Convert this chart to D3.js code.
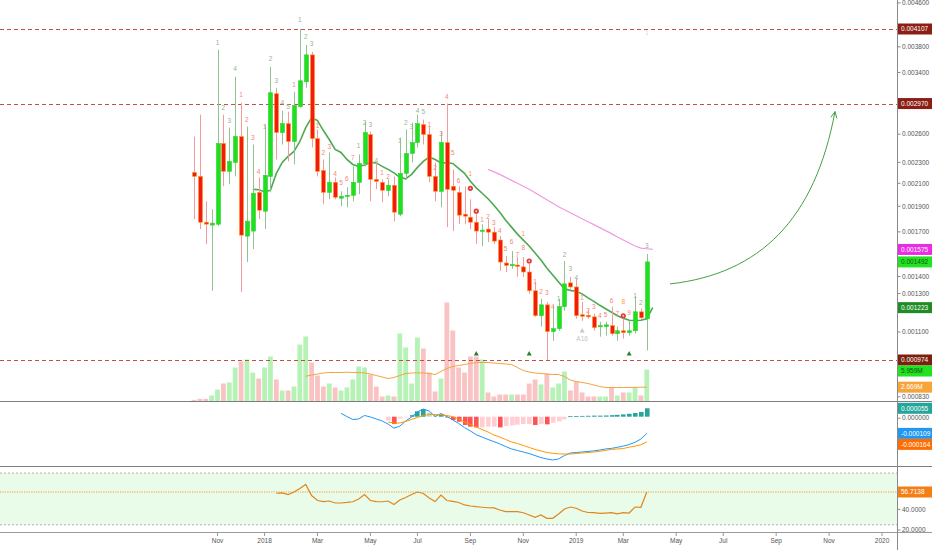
<!DOCTYPE html>
<html><head><meta charset="utf-8">
<script src="https://cdn.jsdelivr.net/npm/d3@7"></script>
<style>
html,body{margin:0;padding:0;background:#fff;}
svg{display:block;font-family:"Liberation Sans",Arial,sans-serif;}
</style></head><body>
<svg id="c" width="932" height="550"></svg>
<script>
// ---------- DATA (weekly candles, first week starting 2017-10-09) ----------
const firstWeek = "2017-10-09";
const open = [0.002202,0.002164,0.001773,0.001751,0.001758,0.002497,0.002212,0.002299,0.002573,0.001669,
0.001706,0.002019,0.001860,0.002164,0.003100,0.002618,0.002722,0.002518,0.002930,0.003265,
0.003670,0.002551,0.002221,0.002019,0.002109,0.001968,0.001985,0.001993,0.002109,0.002289,
0.002596,0.002136,0.002109,0.002037,0.002082,0.001836,0.002193,0.002391,0.002507,0.002711,
0.002596,0.002164,0.002028,0.002507,0.002073,0.002019,0.001836,0.001812,0.001773,0.001706,
0.001721,0.001698,0.001641,0.001485,0.001469,0.001472,0.001460,0.001428,0.001316,0.001181,
0.001238,0.001102,0.001116,0.001228,0.001362,0.001338,0.001186,0.001183,0.001175,0.001126,
0.001126,0.001131,0.001092,0.001106,0.001097,0.001106,0.001201,0.001165];
const high = [0.002573,0.002830,0.001942,0.001876,0.003750,0.002830,0.002676,0.003337,0.002981,0.002687,
0.002486,0.002155,0.002711,0.003484,0.003181,0.002880,0.002867,0.003127,0.004107,0.003832,
0.003718,0.002653,0.002329,0.002401,0.002155,0.002028,0.002064,0.002260,0.002380,0.002746,
0.002630,0.002299,0.002136,0.002136,0.002164,0.002562,0.002653,0.002734,0.002830,0.002770,
0.002687,0.002299,0.002630,0.002970,0.002231,0.002073,0.002073,0.001959,0.001836,0.001758,
0.001797,0.001736,0.001669,0.001531,0.001564,0.001524,0.001524,0.001479,0.001368,0.001271,
0.001254,0.001233,0.001271,0.001498,0.001398,0.001386,0.001254,0.001212,0.001191,0.001150,
0.001150,0.001228,0.001126,0.001181,0.001155,0.001287,0.001217,0.001544];
const low = [0.001797,0.001721,0.001612,0.001316,0.001743,0.002073,0.002091,0.002164,0.001310,0.001491,
0.001578,0.001797,0.001721,0.002019,0.002329,0.002486,0.002309,0.002280,0.002918,0.003181,
0.002454,0.002164,0.001917,0.001959,0.001959,0.001901,0.001892,0.001942,0.002002,0.002260,
0.001942,0.002046,0.001934,0.001985,0.001781,0.001820,0.002136,0.002299,0.002454,0.002486,
0.002109,0.001942,0.001892,0.001736,0.001706,0.001758,0.001758,0.001721,0.001612,0.001598,
0.001626,0.001612,0.001434,0.001428,0.001447,0.001398,0.001398,0.001299,0.001175,0.001126,
0.000974,0.001059,0.001106,0.001206,0.001327,0.001165,0.001155,0.001165,0.001106,0.001078,
0.001083,0.001083,0.001059,0.001069,0.001083,0.001092,0.001165,0.001015];
const close = [0.002164,0.001773,0.001758,0.001766,0.002497,0.002212,0.002309,0.002573,0.001676,0.001781,
0.002011,0.001868,0.002174,0.003113,0.002618,0.002722,0.002518,0.002943,0.003279,0.003670,
0.002551,0.002212,0.002019,0.002109,0.001976,0.001985,0.001993,0.002109,0.002289,0.002618,
0.002136,0.002118,0.002037,0.002082,0.001852,0.002193,0.002391,0.002507,0.002722,0.002596,
0.002164,0.002028,0.002507,0.002046,0.002037,0.001828,0.001820,0.001773,0.001706,0.001713,
0.001698,0.001633,0.001491,0.001469,0.001475,0.001463,0.001428,0.001316,0.001181,0.001238,
0.001102,0.001116,0.001228,0.001356,0.001338,0.001181,0.001178,0.001175,0.001121,0.001131,
0.001135,0.001092,0.001106,0.001097,0.001106,0.001201,0.001170,0.001492];
// volume in millions
const volume = [0.3,0.5,0.5,1.12,2.23,3.35,3.54,6.33,7.45,7.82,
5.40,4.28,6.33,8.38,4.10,2.05,2.05,2.79,10.61,12.10,
7.26,4.84,2.79,3.35,2.61,2.05,2.61,4.10,6.52,6.33,
5.03,2.79,0.93,1.12,0.93,12.66,10.06,3.35,11.92,9.87,
5.40,1.86,4.28,18.44,13.22,6.33,5.40,8.38,8.38,7.82,
1.68,0.93,1.30,1.30,1.30,1.30,1.30,3.35,4.10,3.17,
5.21,2.61,3.35,5.59,2.05,3.72,1.68,0.93,0.93,0.93,
0.93,2.61,1.12,1.68,1.68,2.61,1.12,5.959];
const volMAStart = 19;
const volMA = [4.71,4.93,5.12,5.31,5.40,5.40,5.40,5.46,5.40,5.40,
5.31,5.12,4.84,4.56,4.28,4.47,4.84,5.21,5.31,5.34,
5.31,5.21,5.03,5.59,6.15,6.52,6.70,6.89,7.08,7.26,
7.26,7.26,7.17,7.08,6.98,6.89,6.33,5.77,5.49,5.31,
5.21,5.12,5.03,5.03,4.66,4.00,3.72,3.54,3.35,3.07,
2.79,2.61,2.61,2.61,2.61,2.61,2.63,2.65,2.669];
const emaStart = 10;
const ema = [0.0020458,0.0020414,0.0020238,0.0020370,0.0021925,0.0022994,0.0023599,0.0024115,0.0025182,0.0026755,
0.0027939,0.0027578,0.0026410,0.0025401,0.0024325,0.0024011,0.0023294,0.0022795,0.0022599,0.0022746,
0.0022994,0.0022944,0.0022599,0.0022308,0.0021973,0.0021549,0.0021410,0.0021830,0.0022501,0.0023093,
0.0023548,0.0023294,0.0022944,0.0022964,0.0022894,0.0022404,0.0021925,0.0021178,0.0020590,0.0020107,
0.0019634,0.0019089,0.0018519,0.0017888,0.0017355,0.0016837,0.0016405,0.0015984,0.0015507,0.0015044,
0.0014532,0.0014098,0.0013677,0.0013269,0.0013183,0.0013126,0.0012985,0.0012762,0.0012570,0.0012355,
0.0012168,0.0011985,0.0011805,0.0011678,0.0011578,0.0011568,0.0011578,0.0011653,0.0012230];
const maLongStart = 50;
const maLong = [0.0022308,0.0022068,0.0021830,0.0021549,0.0021270,0.0020995,0.0020725,0.0020458,0.0020151,0.0019848,
0.0019549,0.0019255,0.0018965,0.0018720,0.0018479,0.0018241,0.0018006,0.0017773,0.0017543,0.0017317,
0.0017094,0.0016873,0.0016620,0.0016405,0.0016193,0.0015984,0.0015847,0.0015800,0.0015750];
// MACD (x 1e-6)
const macdStart = 25;
const macd = [22,1,-18,-15,8,-2,-15,-28,-48,-75,-62,-28,-2,31,50,37,1,21,1,-20,
-44,-71,-93,-118,-133,-149,-163,-178,-195,-211,-221,-231,-241,-254,-267,-276,-283,-276,-254,-237,
-234,-231,-227,-223,-218,-211,-207,-200,-192,-182,-167,-146,-109];
const signalStart = 33;
const signal = [-35,-41,-41,-31,-18,-5,8,14,14,13,8,0,-15,-35,-51,-67,-84,-100,-120,-133,
-149,-165,-175,-188,-201,-214,-224,-234,-239,-243,-244,-244,-241,-237,-234,-231,-226,-220,-214,-211,
-208,-199,-192,-184,-164];
const histStart = 33;
const hist = [-26,-48,-12,-3,10,35,50,27,10,14,-5,-22,-33,-54,-65,-70,-70,-65,-65,-70,
-61,-56,-52,-48,-48,-54,-48,-50,-39,-30,-17,3,4,5,6,7,7,8,10,12,
15,19,24,31,55];
const rsiStart = 14;
const rsi = [55.5,55.9,54.3,56.7,60.1,64.0,53.3,48.5,47.5,48.0,46.1,46.1,46.6,47.3,50.0,54.3,48.5,47.5,47.3,48.0,
44.6,49.0,51.4,54.3,56.7,55.3,50.9,47.5,53.8,48.5,47.7,46.6,44.2,43.2,42.5,42.0,41.5,41.3,39.3,37.7,
37.7,37.7,36.7,34.5,32.3,34.5,31.3,31.3,35.5,40.3,42.2,41.0,38.4,36.9,36.7,36.1,36.4,36.7,35.5,36.7,
36.4,42.2,41.9,56.7138];
const levelLines = [0.004107, 0.002970, 0.000974];
const priceTicks = [0.0046,0.0042,0.0038,0.0034,0.0030,0.0026,0.0023,0.0021,0.0019,0.0017,0.0014,0.0013,0.0011,0.0010,0.00083];
const rsiTicks = [60,40,20];
const xTickDates = ["2017-11-06","2018-01-01","2018-03-05","2018-05-07","2018-07-02","2018-09-03","2018-11-05","2019-01-07","2019-03-04","2019-05-06","2019-07-01","2019-09-02","2019-11-04","2020-01-06"];
const xTickLabels = ["Nov","2018","Mar","May","Jul","Sep","Nov","2019","Mar","May","Jul","Sep","Nov","2020"];
// TD-style count labels: [weekIndex, text, price, kind]
const tdLabels = [
[4,"1",0.0038655,"g"],[5,"2",0.0029175,"g"],[6,"3",0.0027578,"g"],[7,"4",0.0034540,"g"],
[8,"1",0.0030864,"r"],[9,"2",0.0027698,"r"],[10,"3",0.0025622,"r"],[11,"4",0.0022116,"r"],
[12,"1",0.0026872,"g"],[13,"2",0.0036069,"g"],[14,"3",0.0032792,"g"],[15,"4",0.0029813,"g"],[16,"5",0.0029302,"g"],
[17,"1",0.0032229,"r"],[18,"1",0.0042705,"g"],[19,"2",0.0039672,"g"],[20,"3",0.0038488,"g"],
[21,"1",0.0026988,"r"],[22,"2",0.0024011,"r"],[23,"3",0.0024643,"r"],[24,"4",0.0021925,"r"],[25,"5",0.0021086,"r"],[26,"6",0.0021456,"r"],[27,"7",0.0023497,"r"],
[28,"1",0.0024750,"g"],[29,"2",0.0027341,"g"],[30,"3",0.0027105,"g"],[31,"4",0.0023194,"g"],
[32,"1",0.0022020,"r"],[33,"2",0.0021642,"r"],
[35,"1",0.0025291,"g"],[36,"2",0.0027341,"g"],[37,"3",0.0026872,"g"],[38,"4",0.0028798,"g"],[39,"5",0.0028674,"g"],
[40,"1",0.0027105,"r"],[41,"2",0.0022501,"r"],[42,"3",0.0026070,"r"],[43,"4",0.0030598,"r"],[44,"5",0.0024011,"r"],[45,"6",0.0021270,"r"],
[47,"1",0.0021925,"o"],[47,"",0.0020546,"c"],[48,"",0.0018599,"c"],
[49,"1",0.0017888,"r"],[50,"2",0.0018123,"r"],[51,"3",0.0017658,"r"],[52,"4",0.0017057,"r"],[53,"5",0.0015778,"r"],[54,"6",0.0016263,"r"],[55,"7",0.0015374,"r"],[56,"8",0.0015847,"r"],
[56,"1",0.0016837,"o"],[57,"",0.0014979,"c"],
[58,"1",0.0013677,"r"],[59,"2",0.0013098,"r"],[60,"3",0.0013041,"r"],[61,"4",0.0012275,"r"],
[62,"1",0.0012707,"g"],[63,"2",0.0015374,"g"],[64,"3",0.0014469,"g"],[65,"4",0.0013916,"g"],
[66,"1",0.0012762,"r"],[67,"2",0.0012063,"r"],[68,"3",0.0012275,"r"],[69,"4",0.0011805,"r"],[70,"5",0.0011856,"r"],[71,"6",0.0012598,"r"],[72,"7",0.0011907,"r"],
[73,"8",0.0012543,"o"],[73,"",0.0011805,"c"],[74,"9",0.0011959,"r"],
[75,"1",0.0012873,"g"],[76,"2",0.0012489,"g"],[77,"3",0.0015984,"g"],[77,"1",0.0040365,"f"]
];
const upMarks = [48, 57, 74];           // small green triangles
const upMarkPrice = 0.0010015;
const annA = [66, 0.0011077, 0.0010686]; // "A" marker + "A16"
// hand-drawn arrow (week index, price)
const arrowPts = [[80.95,0.0013559],[96.26,0.0014159],[105.6,0.0017966],[109.0,0.0028674]];

// ---------- SCALES ----------
const svg = d3.select("#c");
const parse = d3.timeParse("%Y-%m-%d");
const d0 = parse(firstWeek);
const wk = k => new Date(d0.getTime() + k*7*864e5);
const dates = open.map((_,i)=>d3.timeDay.offset(d0, 7*i));
const AX = 897.5;
const x = d3.scaleTime().domain([dates[0], dates[dates.length-1]]).range([194, 646.8]);
const y = d3.scaleLog().domain([0.004107, 0.000974]).range([29, 360]);
const yV = d3.scaleLinear().domain([0, 20]).range([401.5, 401.5 - 20*5.37]);
const yM = d3.scaleLinear().domain([0, -0.0001]).range([416.7, 432.0]);
const yR = d3.scaleLinear().domain([40, 20]).range([509.3, 530]);
const dateAt = k => d3.timeDay.offset(d0, 7*k);

const defs = svg.append("defs");
defs.append("clipPath").attr("id","cm").append("rect").attr("x",0).attr("y",0).attr("width",AX).attr("height",401);
defs.append("clipPath").attr("id","cmacd").append("rect").attr("x",0).attr("y",401.5).attr("width",AX).attr("height",65);
defs.append("clipPath").attr("id","crsi").append("rect").attr("x",0).attr("y",467).attr("width",AX).attr("height",65);

// ---------- MAIN PANE ----------
const main = svg.append("g").attr("clip-path","url(#cm)");
const up = i => close[i] >= open[i];

// volume
main.append("g").selectAll("rect").data(volume).join("rect")
  .attr("x",(v,i)=>x(dates[i])-2.4).attr("width",4.8)
  .attr("y",v=>yV(v)).attr("height",v=>yV(0)-yV(v))
  .attr("fill",(v,i)=>up(i)?"#b6f2b6":"#f9c3c3");
// volume MA
main.append("path").datum(volMA)
  .attr("d", d3.line().x((v,i)=>x(dateAt(i+volMAStart))).y(v=>yV(v)))
  .attr("fill","none").attr("stroke","#f5a342").attr("stroke-width",1);

// level lines
main.append("g").selectAll("line").data(levelLines).join("line")
  .attr("x1",0).attr("x2",AX).attr("y1",v=>Math.round(y(v))+0.5).attr("y2",v=>Math.round(y(v))+0.5)
  .attr("stroke","#c0504a").attr("stroke-width",1).attr("stroke-dasharray","4,3");

// long MA (pink)
main.append("path").datum(maLong)
  .attr("d", d3.line().x((v,i)=>x(dateAt(i+maLongStart))).y(v=>y(v)))
  .attr("fill","none").attr("stroke","#f29ae0").attr("stroke-width",1.2);
// EMA (green)
main.append("path").datum(ema)
  .attr("d", d3.line().x((v,i)=>x(dateAt(i+emaStart))).y(v=>y(v)))
  .attr("fill","none").attr("stroke","#4fa852").attr("stroke-width",1.6);

// candles
const cg = main.append("g");
cg.selectAll("line").data(open).join("line")
  .attr("x1",(v,i)=>Math.round(x(dates[i]))+0.5).attr("x2",(v,i)=>Math.round(x(dates[i]))+0.5)
  .attr("y1",(v,i)=>y(high[i])).attr("y2",(v,i)=>y(low[i]))
  .attr("stroke",(v,i)=>up(i)?"#8fc48f":"#f39a9a").attr("stroke-width",1);
cg.selectAll("rect").data(open).join("rect")
  .attr("x",(v,i)=>Math.round(x(dates[i]))-1.5).attr("width",4)
  .attr("y",(v,i)=>Math.min(y(open[i]),y(close[i])))
  .attr("height",(v,i)=>Math.max(1.2,Math.abs(y(open[i])-y(close[i]))))
  .attr("fill",(v,i)=>up(i)?"#1fe01f":"#f31b10")
  .attr("stroke",(v,i)=>up(i)?"#2fcf2f":"#ff9a1a").attr("stroke-width",0.6);

// TD labels
const tdColor = {g:"#96b496", r:"#f0877e", o:"#f5a33a", f:"#bfe3df"};
const tg = main.append("g").attr("font-size",6.5).attr("text-anchor","middle");
tdLabels.forEach(([k,t,p,kind])=>{
  const cx = x(dateAt(k)), cy = y(p);
  if(kind==="c"){
    tg.append("circle").attr("cx",cx).attr("cy",cy).attr("r",2.6).attr("fill","#e53935");
    tg.append("circle").attr("cx",cx).attr("cy",cy).attr("r",0.9).attr("fill","#ffd0d0");
  } else {
    tg.append("text").attr("x",cx).attr("y",cy).attr("dy","0.35em").attr("fill",tdColor[kind]).text(t);
  }
});
// small green up-triangles
main.append("g").selectAll("path").data(upMarks).join("path")
  .attr("d", k=>{const cx=x(dateAt(k)), cy=y(upMarkPrice); return `M${cx-2.5},${cy+2}L${cx+2.5},${cy+2}L${cx},${cy-2.5}Z`;})
  .attr("fill","#2e7d32");
// "A" marker
{
  const cx = x(dateAt(annA[0]));
  main.append("path").attr("d",`M${cx-2.5},${y(annA[1])+2}L${cx+2.5},${y(annA[1])+2}L${cx},${y(annA[1])-2.5}Z`).attr("fill","#c8c8c8");
  main.append("text").attr("x",cx).attr("y",y(annA[2])).attr("dy","0.35em").attr("text-anchor","middle")
    .attr("font-size",6.5).attr("fill","#c4c4c4").text("A16");
}
// arrow
{
  const P = arrowPts.map(([k,p])=>[x(wk(k)), y(p)]);
  const path = d3.path();
  path.moveTo(P[0][0],P[0][1]);
  path.bezierCurveTo(P[1][0],P[1][1],P[2][0],P[2][1],P[3][0],P[3][1]);
  svg.append("path").attr("d",path.toString()).attr("fill","none").attr("stroke","#43a047").attr("stroke-width",1);
  const dx=P[3][0]-P[2][0], dy=P[3][1]-P[2][1], L=Math.hypot(dx,dy);
  const ux=dx/L, uy=dy/L, a=0.45, len=7;
  const rot=(ang)=>[-(ux*Math.cos(ang)-uy*Math.sin(ang))*len, -(ux*Math.sin(ang)+uy*Math.cos(ang))*len];
  const r1=rot(a), r2=rot(-a);
  svg.append("path").attr("d",`M${P[3][0]+r1[0]},${P[3][1]+r1[1]}L${P[3][0]},${P[3][1]}L${P[3][0]+r2[0]},${P[3][1]+r2[1]}`)
    .attr("fill","none").attr("stroke","#43a047").attr("stroke-width",1);
}

// ---------- MACD PANE ----------
const mg = svg.append("g").attr("clip-path","url(#cmacd)");
mg.selectAll("rect").data(hist).join("rect")
  .attr("x",(v,i)=>Math.round(x(dateAt(i+histStart)))-2).attr("width",4.6)
  .attr("y",v=>Math.min(yM(0),yM(v*1e-6))).attr("height",v=>Math.max(0.8,Math.abs(yM(v*1e-6)-yM(0))))
  .attr("fill",(v,i)=>{const pv = i>0?hist[i-1]:v; if(v>=0) return v>=pv?"#26a69a":"#b2dfdb"; return v<pv?"#ff5252":"#ffcdd2";});
mg.append("path").datum(macd).attr("d",d3.line().x((v,i)=>x(dateAt(i+macdStart))).y(v=>yM(v*1e-6)))
  .attr("fill","none").attr("stroke","#2196f3").attr("stroke-width",1);
mg.append("path").datum(signal).attr("d",d3.line().x((v,i)=>x(dateAt(i+signalStart))).y(v=>yM(v*1e-6)))
  .attr("fill","none").attr("stroke","#ff9800").attr("stroke-width",1);

// ---------- RSI PANE ----------
const rg = svg.append("g").attr("clip-path","url(#crsi)");
rg.append("rect").attr("x",0).attr("width",AX).attr("y",yR(75)).attr("height",yR(25)-yR(75)).attr("fill","#e9fbe9");
[75,25].forEach(v=>rg.append("line").attr("x1",0).attr("x2",AX).attr("y1",yR(v)).attr("y2",yR(v))
  .attr("stroke","#b0b0b0").attr("stroke-width",1).attr("stroke-dasharray","2,2"));
const rLast = rsi[rsi.length-1];
rg.append("line").attr("x1",0).attr("x2",AX).attr("y1",yR(rLast)).attr("y2",yR(rLast))
  .attr("stroke","#f0a030").attr("stroke-width",1.2).attr("stroke-dasharray","1.2,1.2");
rg.append("path").datum(rsi).attr("d",d3.line().x((v,i)=>x(dateAt(i+rsiStart))).y(v=>yR(v)))
  .attr("fill","none").attr("stroke","#e0861c").attr("stroke-width",1.2);

// ---------- FRAME ----------
[401.5, 466.5].forEach(v=>svg.append("line").attr("x1",0).attr("x2",932).attr("y1",v).attr("y2",v).attr("stroke","#7d7d7d").attr("stroke-width",1));
svg.append("line").attr("x1",0).attr("x2",932).attr("y1",532.5).attr("y2",532.5).attr("stroke","#9a9a9a").attr("stroke-width",1);
svg.append("line").attr("x1",AX).attr("x2",AX).attr("y1",0).attr("y2",550).attr("stroke","#8a8a8a").attr("stroke-width",1);

// x axis
const xg = svg.append("g").attr("font-size",6.5).attr("fill","#555").attr("text-anchor","middle");
xTickDates.forEach((s,i)=>{
  const px = x(parse(s));
  xg.append("line").attr("x1",px).attr("x2",px).attr("y1",533).attr("y2",536).attr("stroke","#999");
  xg.append("text").attr("x",px).attr("y",541).attr("dy","0.35em").text(xTickLabels[i]);
});

// value labels (pushed apart)
const lastVol = volume[volume.length-1], lastVolMA = volMA[volMA.length-1];
const labels = [
 {y:y(0.004107), t:"0.004107", bg:"#8b1e16", fg:"#fff"},
 {y:y(0.002970), t:"0.002970", bg:"#8b1e16", fg:"#fff"},
 {y:y(maLong[maLong.length-1]), t:maLong[maLong.length-1].toFixed(6), bg:"#ea2de4", fg:"#fff"},
 {y:y(close[close.length-1]), t:close[close.length-1].toFixed(6), bg:"#22e222", fg:"#145214"},
 {y:y(ema[ema.length-1]), t:ema[ema.length-1].toFixed(6), bg:"#1f8c25", fg:"#fff"},
 {y:y(0.000974), t:"0.000974", bg:"#7b1f0e", fg:"#fff"},
 {y:yV(lastVol), t:lastVol.toFixed(3)+"M", bg:"#22e222", fg:"#145214"},
 {y:yV(lastVolMA), t:lastVolMA.toFixed(3)+"M", bg:"#f7a53b", fg:"#fff"},
 {y:yM(hist[hist.length-1]*1e-6), t:(hist[hist.length-1]*1e-6).toFixed(6), bg:"#26a69a", fg:"#fff"},
 {y:yM(macd[macd.length-1]*1e-6), t:(macd[macd.length-1]*1e-6).toFixed(6), bg:"#2196f3", fg:"#fff"},
 {y:yM(signal[signal.length-1]*1e-6), t:(signal[signal.length-1]*1e-6).toFixed(6), bg:"#ff6d00", fg:"#fff"},
 {y:yR(rLast), t:rLast.toFixed(4), bg:"#f57f17", fg:"#fff"}
];
const H = 11;
labels.sort((a,b)=>a.y-b.y);
for(let i=1;i<labels.length;i++){ if(labels[i].y - labels[i-1].y < H) labels[i].y = labels[i-1].y + H; }

// right axis ticks (hidden where a value label sits on them)
const ag = svg.append("g").attr("font-size",6.5).attr("fill","#555");
function tick(yy, txt){
  if(labels.some(l=>Math.abs(l.y-yy) < H/2+3)) return;
  ag.append("line").attr("x1",AX).attr("x2",AX+3).attr("y1",yy).attr("y2",yy).attr("stroke","#888");
  ag.append("text").attr("x",AX+4.5).attr("y",yy).attr("dy","0.35em").text(txt);
}
priceTicks.forEach(v=>tick(y(v), v.toFixed(6)));
tick(yM(0)+1.5, "0.000000");
rsiTicks.forEach(v=>tick(yR(v), v.toFixed(4)));

const lg = svg.append("g").attr("font-size",6.5);
labels.forEach(l=>{
  lg.append("rect").attr("x",AX+0.5).attr("y",l.y-H/2).attr("width",34).attr("height",H).attr("fill",l.bg);
  lg.append("text").attr("x",AX+3.5).attr("y",l.y).attr("dy","0.35em").attr("fill",l.fg).text(l.t);
});
</script>
</body></html>
